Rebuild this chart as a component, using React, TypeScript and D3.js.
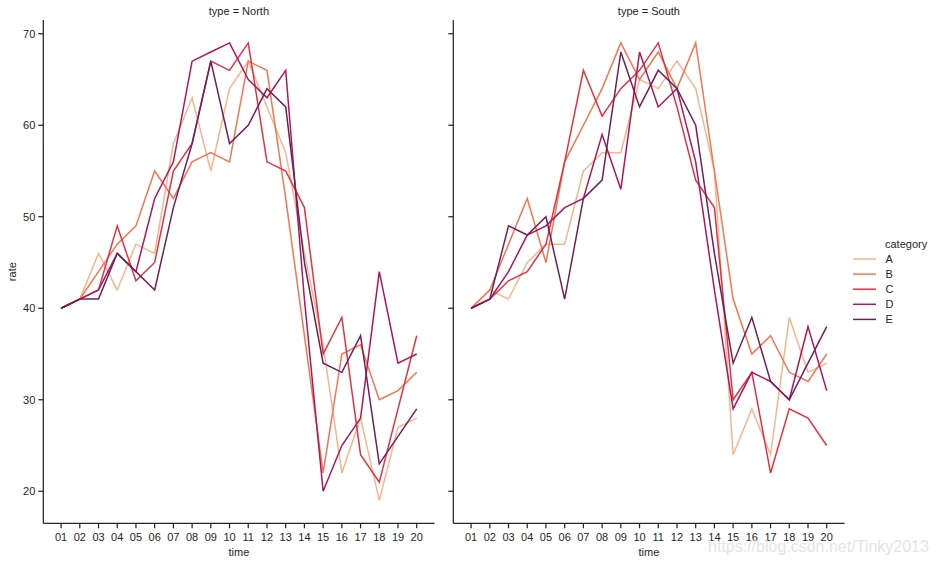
import React from 'react';
import * as d3 from 'd3';

const times = ['01','02','03','04','05','06','07','08','09','10','11','12','13','14','15','16','17','18','19','20'];
const categories = ['A', 'B', 'C', 'D', 'E'];
const palette = ['#f6b48f', '#f37651', '#e13342', '#ad1759', '#701f57'];
const yTicks = [20, 30, 40, 50, 60, 70];

const northA = [40, 41, 46, 42, 47, 46, 58, 63, 55, 64, 67, 62, 57, 46, 36, 22, 28, 19, 27, 28];
const northB = [40, 41, 44, 47, 49, 55, 52, 56, 57, 56, 67, 66, 52, 37, 22, 35, 36, 30, 31, 33];
const northC = [40, 41, 42, 49, 43, 45, 55, 58, 67, 66, 69, 56, 55, 51, 35, 39, 24, 21, 29, 37];
const northD = [40, 41, 42, 46, 44, 52, 56, 67, 68, 69, 65, 63, 66, 41, 20, 25, 28, 44, 34, 35];
const northE = [40, 41, 41, 46, 44, 42, 51, 58, 67, 58, 60, 64, 62, 45, 34, 33, 37, 23, 26, 29];

const southA = [40, 42, 41, 45, 47, 47, 55, 57, 57, 65, 64, 67, 64, 55, 24, 29, 24, 39, 33, 34];
const southB = [40, 42, 47, 52, 45, 56, 60, 64, 69, 65, 68, 64, 69, 55, 41, 35, 37, 33, 32, 35];
const southC = [40, 41, 43, 44, 47, 56, 66, 61, 64, 66, 69, 62, 54, 51, 30, 33, 22, 29, 28, 25];
const southD = [40, 41, 44, 48, 49, 51, 52, 59, 53, 68, 62, 64, 56, 42, 29, 33, 32, 30, 38, 31];
const southE = [40, 41, 49, 48, 50, 41, 52, 54, 68, 62, 66, 64, 60, 46, 34, 39, 32, 30, 34, 38];

const panels = [
  { title: 'type = North', series: [northA, northB, northC, northD, northE], left: 43.3, right: 434.5, yLabels: true },
  { title: 'type = South', series: [southA, southB, southC, southD, southE], left: 453.3, right: 844.5, yLabels: false },
];

const FONT = '"Liberation Sans", Arial, sans-serif';
const TXT = '#262626';

export default function App() {
  const W = 937, H = 564;
  const top = 20, bottom = 523.3;
  const y = d3.scaleLinear().domain([16.5, 71.5]).range([bottom, top]);

  return (
    <svg width={W} height={H} style={{ position: 'absolute', left: 0, top: 0, background: '#fff' }} fontFamily={FONT}>
      <rect width={W} height={H} fill="#fff" />
      {panels.map((p, pi) => {
        const x = d3.scalePoint<string>().domain(times).range([p.left, p.right]).padding(0.95);
        const line = d3.line<number>().x((_, i) => x(times[i]) as number).y((v) => y(v));
        const cx = (p.left + p.right) / 2;
        return (
          <g key={pi}>
            <text x={cx} y={11} textAnchor="middle" dominantBaseline="central" fontSize={11} fill={TXT}>{p.title}</text>
            {p.series.map((s, si) => (
              <path key={si} d={line(s) || ''} fill="none" stroke={palette[si]} strokeWidth={1.5} strokeLinejoin="miter" />
            ))}
            <line x1={p.left} x2={p.left} y1={top} y2={bottom} stroke={TXT} strokeWidth={1.25} />
            <line x1={p.left} x2={p.right} y1={bottom} y2={bottom} stroke={TXT} strokeWidth={1.25} />
            {yTicks.map((t) => (
              <g key={t}>
                <line x1={p.left - 5} x2={p.left} y1={y(t)} y2={y(t)} stroke={TXT} strokeWidth={1.25} />
                {p.yLabels && (
                  <text x={p.left - 8} y={y(t)} textAnchor="end" dominantBaseline="central" fontSize={11} fill={TXT}>{t}</text>
                )}
              </g>
            ))}
            {times.map((t) => (
              <g key={t}>
                <line x1={x(t)} x2={x(t)} y1={bottom} y2={bottom + 5} stroke={TXT} strokeWidth={1.25} />
                <text x={x(t)} y={537} textAnchor="middle" dominantBaseline="central" fontSize={11} fill={TXT}>{t}</text>
              </g>
            ))}
            <text x={cx} y={552} textAnchor="middle" dominantBaseline="central" fontSize={11} fill={TXT}>time</text>
            {p.yLabels && (
              <text transform={`translate(12, ${(top + bottom) / 2}) rotate(-90)`} textAnchor="middle" dominantBaseline="central" fontSize={11} fill={TXT}>rate</text>
            )}
          </g>
        );
      })}
      <g>
        <text x={885} y={244} dominantBaseline="central" fontSize={11} fill={TXT}>category</text>
        {categories.map((c, i) => (
          <g key={c}>
            <line x1={853} x2={876} y1={259 + i * 15.1} y2={259 + i * 15.1} stroke={palette[i]} strokeWidth={1.5} />
            <text x={885.5} y={259 + i * 15.1} dominantBaseline="central" fontSize={11} fill={TXT}>{c}</text>
          </g>
        ))}
      </g>
      <text x={708} y={546} dominantBaseline="central" fontSize={16} fill="#e2e2e2" opacity={0.9}>https://blog.csdn.net/Tinky2013</text>
    </svg>
  );
}
